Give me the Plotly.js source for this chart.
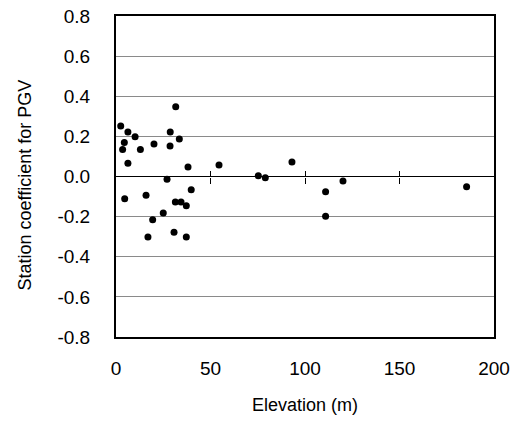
<!DOCTYPE html>
<html>
<head>
<meta charset="utf-8">
<script src="https://cdn.plot.ly/plotly-3.0.1.min.js"></script>
<style>html,body{margin:0;padding:0;background:#fff;}#plot{width:521px;height:423px;}</style>
</head>
<body>
<div id="plot"></div>
<script>
// Elevation (m)
const elevation = [31.6, 2.5, 6.3, 28.7, 10.1, 33.5, 4.4, 3.5, 12.9, 20.1, 28.6, 6.3, 38.1, 54.5,
  27.0, 39.8, 4.6, 15.9, 31.4, 34.4, 37.2, 25.0, 19.4, 16.9, 30.7, 37.2,
  75.3, 79.0, 93.1, 120.1, 110.9, 110.9, 185.5];
// Station coefficient for PGV
const stationCoef = [0.348, 0.252, 0.222, 0.222, 0.198, 0.187, 0.170, 0.135, 0.135, 0.162, 0.152, 0.066, 0.047, 0.057,
  -0.014, -0.066, -0.111, -0.094, -0.127, -0.127, -0.146, -0.182, -0.215, -0.302, -0.278, -0.302,
  0.004, -0.006, 0.072, -0.022, -0.076, -0.198, -0.051];

const xTickVals = [0, 50, 100, 150, 200];
const xTickText = ['0', '50', '100', '150', '200'];
const yTickVals = [-0.8, -0.6, -0.4, -0.2, 0, 0.2, 0.4, 0.6, 0.8];
const yTickText = ['-0.8', '-0.6', '-0.4', '-0.2', '0.0', '0.2', '0.4', '0.6', '0.8'];
const midTickVals = [50, 100, 150];

const family = 'Liberation Sans, Arial, sans-serif';
const tickFont = {family: family, size: 19, color: '#000'};

const data = [
  {x: elevation, y: stationCoef, type: 'scatter', mode: 'markers',
   marker: {color: '#000', size: 7}, hoverinfo: 'x+y', showlegend: false},
  {x: [], y: [], xaxis: 'x2', yaxis: 'y', type: 'scatter', showlegend: false},
  {x: [], y: [], xaxis: 'x3', yaxis: 'y', type: 'scatter', showlegend: false}
];

const layout = {
  width: 521, height: 423,
  margin: {l: 116, r: 27, t: 16, b: 86},
  paper_bgcolor: '#fff', plot_bgcolor: '#fff',
  font: {family: family, size: 18, color: '#000'},
  showlegend: false,
  xaxis: {
    range: [0, 200], tickvals: xTickVals, ticktext: xTickText,
    showgrid: false, zeroline: false,
    showline: true, linecolor: '#000', linewidth: 2, mirror: true,
    ticks: '', ticklabelstandoff: 13, tickfont: tickFont
  },
  xaxis2: {
    overlaying: 'x', anchor: 'free', position: 0.5, range: [0, 200],
    tickvals: midTickVals, showticklabels: false, ticks: 'outside', ticklen: 6,
    tickcolor: '#000', tickwidth: 1, showgrid: false, zeroline: false, showline: false
  },
  xaxis3: {
    overlaying: 'x', anchor: 'free', position: 0.5, range: [0, 200], side: 'top',
    tickvals: midTickVals, showticklabels: false, ticks: 'outside', ticklen: 6,
    tickcolor: '#000', tickwidth: 1, showgrid: false, zeroline: false, showline: false
  },
  yaxis: {
    range: [-0.8, 0.8], tickvals: yTickVals, ticktext: yTickText,
    showgrid: true, gridcolor: '#8a8a8a', gridwidth: 1,
    zeroline: true, zerolinecolor: '#000', zerolinewidth: 1,
    showline: true, linecolor: '#000', linewidth: 2, mirror: true,
    ticks: '', ticklabelstandoff: 20, tickfont: tickFont
  },
  annotations: [
    {text: 'Station coefficient for PGV', xref: 'paper', yref: 'paper',
     x: -0.242, y: 0.4735, xanchor: 'center', yanchor: 'middle', textangle: -90,
     showarrow: false, font: {family: family, size: 18, color: '#000'}},
    {text: 'Elevation (m)', xref: 'paper', yref: 'paper',
     x: 0.5, y: -0.212, xanchor: 'center', yanchor: 'middle',
     showarrow: false, font: {family: family, size: 18, color: '#000'}}
  ]
};

Plotly.newPlot('plot', data, layout, {displayModeBar: false, staticPlot: true});
</script>
</body>
</html>
